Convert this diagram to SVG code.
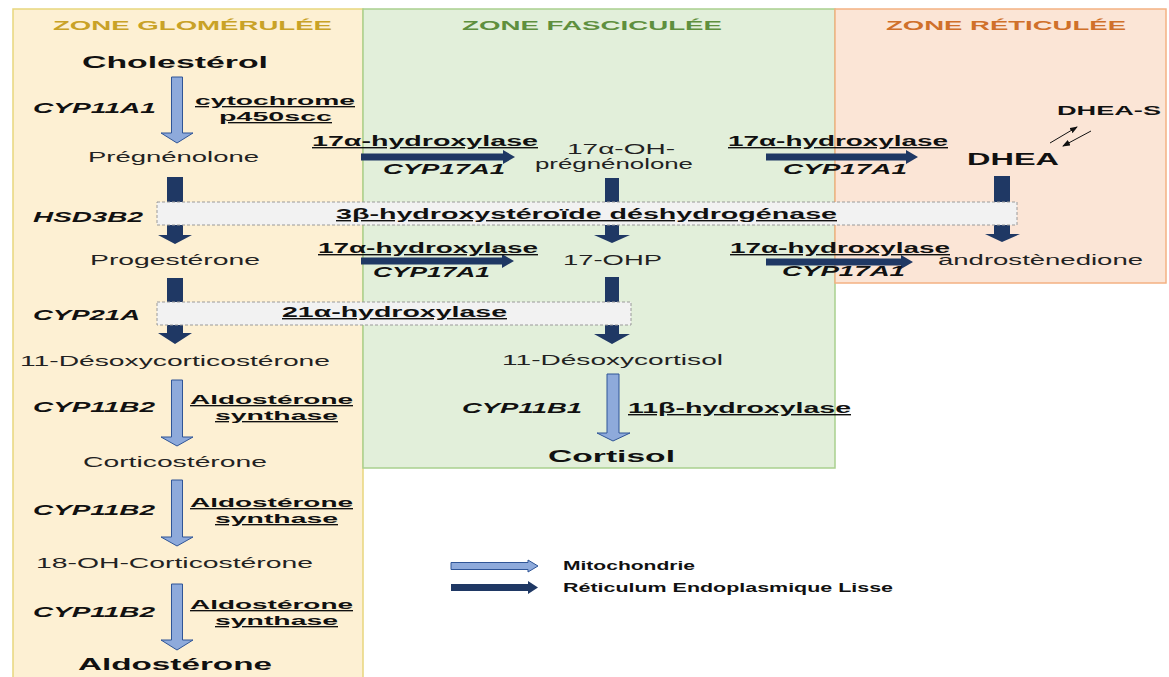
<svg xmlns="http://www.w3.org/2000/svg" width="1169" height="677" viewBox="0 0 1169 677">
<defs>
<style>
text{font-family:"Liberation Sans",Arial,sans-serif;fill:#111;}
.title{font-size:13px;font-weight:bold;}
.big{font-size:17px;font-weight:bold;}
.cmp{font-size:14px;fill:#222;}
.gene{font-size:14px;font-weight:bold;font-style:italic;}
.enz{font-size:14px;font-weight:bold;text-decoration:underline;}
.enz2{font-size:13.5px;font-weight:bold;text-decoration:underline;}
.leg{font-size:13px;font-weight:bold;}
.dark{fill:#1f3864;}
.light{fill:#8eaadb;stroke:#2f5597;stroke-width:1;}
.box{fill:#f2f2f2;stroke:#9a9a9a;stroke-width:1;stroke-dasharray:3 2;}
.thin{stroke:#111;stroke-width:1;fill:none;marker-end:url(#sm);}
</style>
<marker id="sm" markerWidth="8" markerHeight="6" refX="7" refY="3" orient="auto" markerUnits="userSpaceOnUse">
<path d="M0,0 L8,3 L0,6 Z" fill="#111"/>
</marker>
</defs>
<rect width="1169" height="677" fill="#ffffff"/>
<g id="zones">
<rect x="13" y="9" width="350" height="670" fill="#fdf0d3" stroke="#e8d67e" stroke-width="1.5"/>
<rect x="363" y="9" width="472" height="459" fill="#e2efda" stroke="#a9d08e" stroke-width="1.5"/>
<rect x="835" y="9" width="331" height="274" fill="#fbe5d6" stroke="#f4b183" stroke-width="1.5"/>
<text class="title" x="53" y="30" textLength="279" lengthAdjust="spacingAndGlyphs" style="fill:#c9a227">ZONE GLOMÉRULÉE</text>
<text class="title" x="462" y="30" textLength="260" lengthAdjust="spacingAndGlyphs" style="fill:#5f8f3e">ZONE FASCICULÉE</text>
<text class="title" x="886" y="30" textLength="240" lengthAdjust="spacingAndGlyphs" style="fill:#d0702a">ZONE RÉTICULÉE</text>
</g>
<g id="connectors">
<path class="light" d="M171.5,77 H182.5 V133 H193 L177,143 L161,133 H171.5 Z"/>
<path class="light" d="M171.5,380 H182.5 V437 H193 L177,446 L161,437 H171.5 Z"/>
<path class="light" d="M171.5,480 H182.5 V537 H193 L177,546 L161,537 H171.5 Z"/>
<path class="light" d="M171.5,584 H182.5 V640 H193 L177,650 L161,640 H171.5 Z"/>
<path class="light" d="M607,374 H619 V433 H630 L613,441 L597,433 H607 Z"/>
<path class="dark" d="M167,177 H183 V235 H192 L175,244 L158,235 H167 Z"/>
<path class="dark" d="M167,278 H183 V333 H192 L175,344 L158,333 H167 Z"/>
<path class="dark" d="M605,178 H619 V235 H630 L612,243 L594,235 H605 Z"/>
<path class="dark" d="M605,277 H619 V334 H630 L612,344 L594,334 H605 Z"/>
<path class="dark" d="M994,176 H1010 V234 H1020 L1002,242 L985,234 H994 Z"/>
<path class="dark" d="M361,153.5 H503 V150 L515,157 L503,164 V160.5 H361 Z"/>
<path class="dark" d="M361,257.5 H502 V254 L514,261 L502,268 V264.5 H361 Z"/>
<path class="dark" d="M766,153.5 H906 V150 L918,157 L906,164 V160.5 H766 Z"/>
<path class="dark" d="M766,258.5 H901 V255 L913,262 L901,269 V265.5 H766 Z"/>
<line class="thin" x1="1050" y1="143" x2="1077" y2="127"/>
<line class="thin" x1="1091" y1="131" x2="1063" y2="146"/>
</g>
<g id="enzyme-box-3bHSD">
<rect class="box" x="157" y="202" width="860" height="23"/>
<text class="enz" x="336" y="219" textLength="501" lengthAdjust="spacingAndGlyphs">3β-hydroxystéroïde déshydrogénase</text>
</g>
<g id="enzyme-box-21OH">
<rect class="box" x="157" y="302" width="474" height="23"/>
<text class="enz" x="282" y="317" textLength="225" lengthAdjust="spacingAndGlyphs">21α-hydroxylase</text>
</g>
<g id="cholesterol"><text class="big" x="82" y="68" textLength="186" lengthAdjust="spacingAndGlyphs">Cholestérol</text></g>
<g id="pregnenolone"><text class="cmp" x="88" y="162" textLength="171" lengthAdjust="spacingAndGlyphs">Prégnénolone</text></g>
<g id="progesterone"><text class="cmp" x="90" y="265" textLength="170" lengthAdjust="spacingAndGlyphs">Progestérone</text></g>
<g id="desoxycorticosterone"><text class="cmp" x="20" y="366" textLength="310" lengthAdjust="spacingAndGlyphs">11-Désoxycorticostérone</text></g>
<g id="corticosterone"><text class="cmp" x="83" y="467" textLength="184" lengthAdjust="spacingAndGlyphs">Corticostérone</text></g>
<g id="oh-corticosterone"><text class="cmp" x="36" y="568" textLength="277" lengthAdjust="spacingAndGlyphs">18-OH-Corticostérone</text></g>
<g id="aldosterone"><text class="big" x="78" y="670" textLength="194" lengthAdjust="spacingAndGlyphs">Aldostérone</text></g>
<g id="oh-pregnenolone">
<text class="cmp" x="567" y="154" textLength="108" lengthAdjust="spacingAndGlyphs">17α-OH-</text>
<text class="cmp" x="535" y="169" textLength="158" lengthAdjust="spacingAndGlyphs">prégnénolone</text>
</g>
<g id="ohp"><text class="cmp" x="563" y="265" textLength="99" lengthAdjust="spacingAndGlyphs">17-OHP</text></g>
<g id="desoxycortisol"><text class="cmp" x="502" y="365" textLength="221" lengthAdjust="spacingAndGlyphs">11-Désoxycortisol</text></g>
<g id="cortisol"><text class="big" x="548" y="462" textLength="127" lengthAdjust="spacingAndGlyphs">Cortisol</text></g>
<g id="dhea"><text class="big" x="967" y="165" textLength="92" lengthAdjust="spacingAndGlyphs">DHEA</text></g>
<g id="dhea-s"><text class="title" x="1057" y="115" textLength="104" lengthAdjust="spacingAndGlyphs" style="fill:#111">DHEA-S</text></g>
<g id="androstenedione"><text class="cmp" x="938" y="265" textLength="205" lengthAdjust="spacingAndGlyphs">androstènedione</text></g>
<g id="enzyme-labels">
<text class="gene" x="33" y="113" textLength="123" lengthAdjust="spacingAndGlyphs">CYP11A1</text>
<text class="enz2" x="195" y="105" textLength="160" lengthAdjust="spacingAndGlyphs">cytochrome</text>
<text class="enz2" x="219" y="121" textLength="113" lengthAdjust="spacingAndGlyphs">p450scc</text>
<text class="gene" x="33" y="222" textLength="110" lengthAdjust="spacingAndGlyphs">HSD3B2</text>
<text class="gene" x="33" y="320" textLength="107" lengthAdjust="spacingAndGlyphs">CYP21A</text>
<text class="gene" x="33" y="412" textLength="122" lengthAdjust="spacingAndGlyphs">CYP11B2</text>
<text class="enz2" x="190" y="404" textLength="163" lengthAdjust="spacingAndGlyphs">Aldostérone</text>
<text class="enz2" x="215" y="420" textLength="123" lengthAdjust="spacingAndGlyphs">synthase</text>
<text class="gene" x="33" y="515" textLength="122" lengthAdjust="spacingAndGlyphs">CYP11B2</text>
<text class="enz2" x="190" y="507" textLength="163" lengthAdjust="spacingAndGlyphs">Aldostérone</text>
<text class="enz2" x="215" y="523" textLength="123" lengthAdjust="spacingAndGlyphs">synthase</text>
<text class="gene" x="33" y="617" textLength="122" lengthAdjust="spacingAndGlyphs">CYP11B2</text>
<text class="enz2" x="190" y="609" textLength="163" lengthAdjust="spacingAndGlyphs">Aldostérone</text>
<text class="enz2" x="215" y="625" textLength="123" lengthAdjust="spacingAndGlyphs">synthase</text>
<text class="enz" x="312" y="146" textLength="226" lengthAdjust="spacingAndGlyphs">17α-hydroxylase</text>
<text class="gene" x="383" y="174" textLength="122" lengthAdjust="spacingAndGlyphs">CYP17A1</text>
<text class="enz" x="318" y="253" textLength="220" lengthAdjust="spacingAndGlyphs">17α-hydroxylase</text>
<text class="gene" x="373" y="277" textLength="117" lengthAdjust="spacingAndGlyphs">CYP17A1</text>
<text class="enz" x="728" y="146" textLength="220" lengthAdjust="spacingAndGlyphs">17α-hydroxylase</text>
<text class="gene" x="783" y="174" textLength="124" lengthAdjust="spacingAndGlyphs">CYP17A1</text>
<text class="enz" x="730" y="253" textLength="220" lengthAdjust="spacingAndGlyphs">17α-hydroxylase</text>
<text class="gene" x="782" y="276" textLength="123" lengthAdjust="spacingAndGlyphs">CYP17A1</text>
<text class="gene" x="462" y="413" textLength="120" lengthAdjust="spacingAndGlyphs">CYP11B1</text>
<text class="enz" x="628" y="413" textLength="223" lengthAdjust="spacingAndGlyphs">11β-hydroxylase</text>
</g>
<g id="legend">
<path class="light" d="M451,562.5 H528 V560 L538,566 L528,572 V569.5 H451 Z"/>
<path class="dark" d="M451,584 H528 V581 L538,587.5 L528,594 V591 H451 Z"/>
<text class="leg" x="563" y="570" textLength="132" lengthAdjust="spacingAndGlyphs">Mitochondrie</text>
<text class="leg" x="563" y="592" textLength="330" lengthAdjust="spacingAndGlyphs">Réticulum Endoplasmique Lisse</text>
</g>
</svg>
